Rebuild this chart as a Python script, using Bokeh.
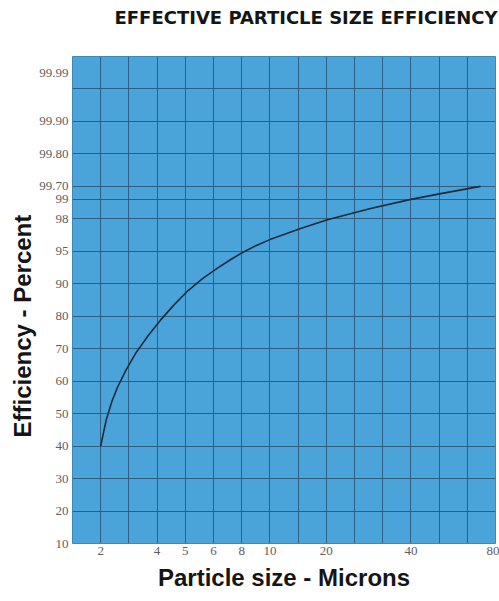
import numpy as np
from bokeh.plotting import figure
from bokeh.models import FixedTicker, Title
from bokeh.embed import file_html
from bokeh.resources import INLINE

# ---- data ----
x_tick_microns = [2, 4, 5, 6, 8, 10, 20, 40, 80]
y_tick_percent = [10, 20, 30, 40, 50, 60, 70, 80, 90, 95, 98, 99, 99.70, 99.80, 99.90, 99.99]
y_tick_text = ["10", "20", "30", "40", "50", "60", "70", "80", "90", "95", "98", "99",
               "99.70", "99.80", "99.90", "99.99"]

particle_size = [2.0, 2.1, 2.2, 2.4, 2.6, 2.9, 3.27, 3.7, 4.12, 4.6, 5.11, 5.6, 6.28, 7.2,
                 8.0, 9.0, 10.0, 15.45, 20.27, 30.47, 40.0, 56.0, 72.9]
efficiency = [40.0, 44.2, 48.2, 53.8, 58.2, 63.5, 69.0, 74.2, 78.8, 83.5, 88.0, 90.75, 92.4, 93.7,
              94.75, 95.51, 96.08, 97.1, 97.91, 98.53, 99.0, 99.35, 99.7]

# ---- the chart's own (irregular, hand-drawn) scales: value -> grid unit ----
x_scale_units = [1, 3, 4, 5, 6, 7, 9, 12, 15]
y_scale_units = [0, 1, 2, 3, 4, 5, 6, 7, 8, 9, 10, 10.6, 11, 12, 13, 14.5]

def xmap(v):
    return np.interp(v, x_tick_microns, x_scale_units)

def ymap(v):
    return np.interp(v, y_tick_percent, y_scale_units)

p = figure(frame_width=423, frame_height=487, output_backend="svg", toolbar_location=None,
           x_range=(0, 15), y_range=(0, 15),
           min_border_left=72, min_border_right=4, min_border_top=56, min_border_bottom=50)

p.background_fill_color = "#4aa4d9"
p.border_fill_color = "white"
p.outline_line_color = "#3f87b5"

p.line(xmap(particle_size), ymap(efficiency), line_color="#1d2a3a", line_width=1.6)

# ticks / labels
xt = [float(v) for v in xmap(x_tick_microns)]
yt = [float(v) for v in ymap(y_tick_percent)]
p.xaxis.ticker = FixedTicker(ticks=xt)
p.yaxis.ticker = FixedTicker(ticks=yt)
p.xaxis.major_label_overrides = {t: str(v) for t, v in zip(xt, x_tick_microns)}
p.yaxis.major_label_overrides = {t: s for t, s in zip(yt, y_tick_text)}

p.xgrid.ticker = FixedTicker(ticks=list(range(0, 16)))
p.ygrid.ticker = FixedTicker(ticks=list(range(0, 16)) + [10.6])
for g in (p.xgrid, p.ygrid):
    g.grid_line_color = "#2a5573"
    g.grid_line_alpha = 0.85
    g.grid_line_width = 1

for ax in (p.xaxis, p.yaxis):
    ax.axis_line_color = None
    ax.major_tick_line_color = None
    ax.minor_tick_line_color = None
    ax.major_tick_out = 0
    ax.major_tick_in = 0
    ax.major_label_text_font = "Liberation Serif"
    ax.major_label_text_font_size = "13px"
    ax.major_label_text_color = "#5e5e5e"
    ax.major_label_standoff = 4
    ax.axis_label_text_font = "Liberation Sans"
    ax.axis_label_text_font_style = "bold"
    ax.axis_label_text_font_size = "24px"
    ax.axis_label_text_color = "#151515"

p.xaxis.major_label_standoff = 3
p.xaxis.axis_label = "Particle size - Microns"
p.xaxis.axis_label_standoff = 6

ylab = Title(text="Efficiency - Percent", align="left", offset=106,
             text_font="Liberation Sans", text_font_style="bold", text_font_size="24px",
             text_color="#151515", standoff=2)
p.add_layout(ylab, "left")

# blank spacer between the frame and the title
spacer = Title(text=" ", text_font_size="10px", standoff=12)
p.add_layout(spacer, "above")

t = Title(text="EFFECTIVE PARTICLE SIZE EFFICIENCY", align="right", offset=-2,
          text_font="DejaVu Sans", text_font_style="bold", text_font_size="18px",
          text_color="#151515", standoff=8)
p.add_layout(t, "above")

open("out.html", "w").write(file_html(p, INLINE))
